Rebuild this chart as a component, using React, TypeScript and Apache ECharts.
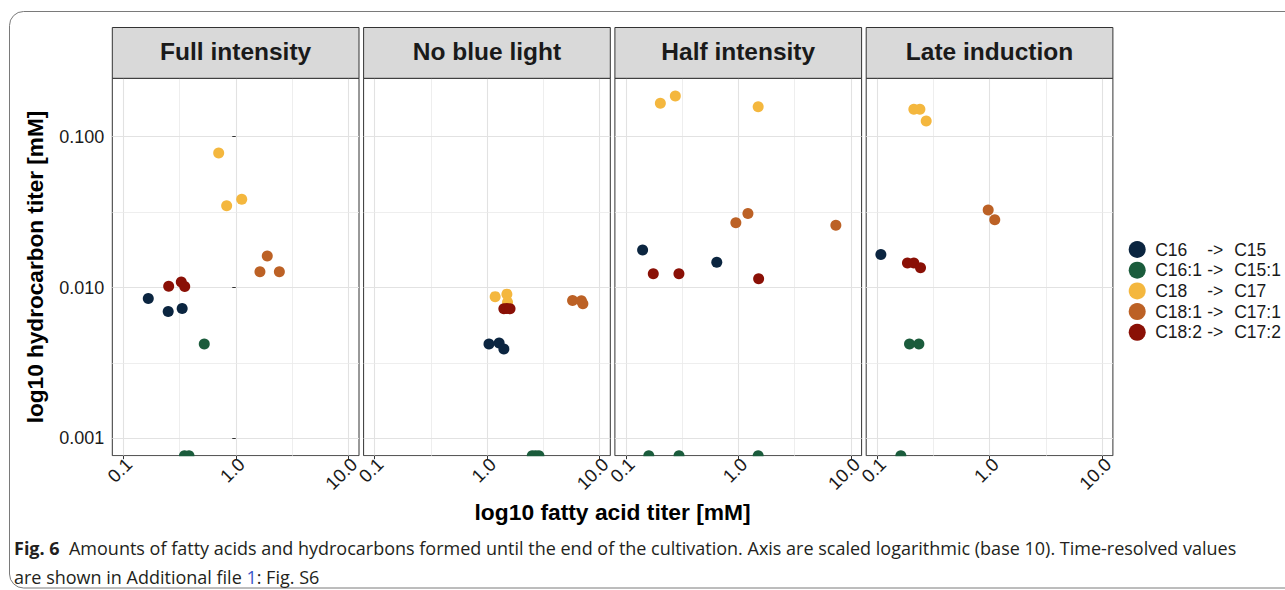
import { useEffect, useRef } from "react";
import * as echarts from "echarts";

// ---------- data ----------
const panelTitles = ["Full intensity", "No blue light", "Half intensity", "Late induction"];
const compounds = ["C16", "C16:1", "C18", "C18:1", "C18:2"];
const products = ["C15", "C15:1", "C17", "C17:1", "C17:2"];
const colors = ["#0b2540", "#1b5c3c", "#f4b73e", "#bc6125", "#8a1006"];

const xTickValues = [0.1, 1, 10];
const xTickLabels = ["0.1", "1.0", "10.0"];
const yTickValues = [0.001, 0.01, 0.1];
const yTickLabels = ["0.001", "0.010", "0.100"];

// [fatty acid titer (mM), hydrocarbon titer (mM)]; 0 = below detection (drawn on the panel edge)
const fullC16 = [[0.167, 0.00845], [0.251, 0.00693], [0.334, 0.00726]];
const fullC16_1 = [[0.525, 0.00422], [0.35, 0], [0.384, 0]];
const fullC18 = [[0.705, 0.078], [0.83, 0.0348], [1.13, 0.0385]];
const fullC18_1 = [[1.905, 0.0162], [1.64, 0.0127], [2.44, 0.0127]];
const fullC18_2 = [[0.2535, 0.0102], [0.328, 0.01086], [0.352, 0.01016]];

const noBlueC16 = [[1.04, 0.00422], [1.28, 0.00428], [1.41, 0.00391]];
const noBlueC16_1 = [[2.52, 0], [2.7, 0], [2.89, 0]];
const noBlueC18 = [[1.18, 0.0087], [1.5, 0.00904], [1.52, 0.008]];
const noBlueC18_1 = [[5.75, 0.0082], [6.89, 0.00817], [7.1, 0.0078]];
const noBlueC18_2 = [[1.41, 0.00722], [1.5, 0.00725], [1.6, 0.00722]];

const halfC16 = [[0.141, 0.0177], [0.643, 0.01473]];
const halfC16_1 = [[0.16, 0], [0.297, 0], [1.5, 0]];
const halfC18 = [[0.2027, 0.1665], [0.2754, 0.186], [1.5, 0.158]];
const halfC18_1 = [[0.95, 0.0269], [1.216, 0.0309], [7.35, 0.0259]];
const halfC18_2 = [[0.1754, 0.01232], [0.2965, 0.01232], [1.514, 0.01142]];

const lateC16 = [[0.108, 0.01656]];
const lateC16_1 = [[0.194, 0.00422], [0.235, 0.00422], [0.1625, 0]];
const lateC18 = [[0.212, 0.1518], [0.24, 0.1518], [0.273, 0.127]];
const lateC18_1 = [[0.97, 0.0327], [1.11, 0.0281]];
const lateC18_2 = [[0.186, 0.01452], [0.212, 0.01452], [0.243, 0.0135]];

const panelData = [
  [fullC16, fullC16_1, fullC18, fullC18_1, fullC18_2],
  [noBlueC16, noBlueC16_1, noBlueC18, noBlueC18_1, noBlueC18_2],
  [halfC16, halfC16_1, halfC18, halfC18_1, halfC18_2],
  [lateC16, lateC16_1, lateC18, lateC18_1, lateC18_2],
];

// ---------- layout ----------
const X_MIN = -1.097;
const X_MAX = 1.095;
const Y_MIN = -3.115;
const Y_MAX = -0.613;
const PANEL_LEFT0 = 112.3;
const PANEL_STEP = 251.3;
const PANEL_W = 246.7;
const PANEL_TOP = 78.3;
const PANEL_H = 377.4;
const STRIP_TOP = 27.5;

const FONT = '"Liberation Sans", Arial, Helvetica, sans-serif';
const CAPTION_FONT = '"Open Sans", Roboto, sans-serif';

const lg = (v: number) => Math.log10(v);
const ty = (v: number) => (v > 0 ? Math.log10(v) : Y_MIN);

function labelFor(values: number[], labels: string[], v: number) {
  for (let i = 0; i < values.length; i++) {
    if (Math.abs(lg(values[i]) - v) < 1e-6) return labels[i];
  }
  return "";
}

function buildOption() {
  const grids: any[] = [];
  const xAxes: any[] = [];
  const yAxes: any[] = [];
  const series: any[] = [];
  const graphics: any[] = [];

  const majorX = xTickValues.map(lg);
  const minorX = [-0.5, 0.5];
  const majorY = yTickValues.map(lg);
  const minorY = [-2.5, -1.5];

  // outer frame
  graphics.push({
    type: "rect",
    z: 0,
    shape: { x: 9.5, y: 11.5, width: 1400, height: 576.5, r: 14 },
    style: { fill: "none", stroke: "#7a7a7a", lineWidth: 1 },
    silent: true,
  });

  panelTitles.forEach((title, i) => {
    const left = PANEL_LEFT0 + i * PANEL_STEP;
    grids.push({
      left,
      top: PANEL_TOP,
      width: PANEL_W,
      height: PANEL_H,
      show: true,
      backgroundColor: "#ffffff",
      borderColor: "#333333",
      borderWidth: 1,
    });
    xAxes.push({
      type: "value",
      gridIndex: i,
      min: X_MIN,
      max: X_MAX,
      z: 10,
      splitLine: { show: false },
      axisLine: { show: false },
      axisTick: {
        show: true,
        length: 3.5,
        customValues: majorX,
        lineStyle: { color: "#333333", width: 1 },
      },
      axisLabel: {
        show: true,
        customValues: majorX,
        rotate: 45,
        margin: 11,
        padding: [0, -8, 0, 0],
        fontSize: 18.5,
        fontFamily: FONT,
        color: "#1a1a1a",
        formatter: (v: number) => labelFor(xTickValues, xTickLabels, v),
      },
    });
    yAxes.push({
      type: "value",
      gridIndex: i,
      min: Y_MIN,
      max: Y_MAX,
      z: 10,
      splitLine: { show: false },
      axisLine: { show: false },
      axisTick: {
        show: i === 0,
        length: 3.5,
        customValues: majorY,
        lineStyle: { color: "#333333", width: 1 },
      },
      axisLabel: {
        show: i === 0,
        customValues: majorY,
        margin: 8,
        fontSize: 18,
        fontFamily: FONT,
        color: "#1a1a1a",
        formatter: (v: number) => labelFor(yTickValues, yTickLabels, v),
      },
    });

    const gridLines: any[] = [];
    majorX.forEach((v) => gridLines.push({ xAxis: v, lineStyle: { color: "#e2e2e2", width: 1.1, type: "solid" } }));
    minorX.forEach((v) => gridLines.push({ xAxis: v, lineStyle: { color: "#eaeaea", width: 0.8, type: "solid" } }));
    majorY.forEach((v) => gridLines.push({ yAxis: v, lineStyle: { color: "#e2e2e2", width: 1.1, type: "solid" } }));
    minorY.forEach((v) => gridLines.push({ yAxis: v, lineStyle: { color: "#eaeaea", width: 0.8, type: "solid" } }));

    panelData[i].forEach((pts, j) => {
      const s: any = {
        type: "scatter",
        name: compounds[j],
        xAxisIndex: i,
        yAxisIndex: i,
        data: pts.map(([fa, hc]) => [lg(fa), ty(hc)]),
        symbol: "circle",
        symbolSize: 11,
        itemStyle: { color: colors[j], opacity: 1 },
        z: 3,
        clip: false,
        silent: true,
        emphasis: { disabled: true },
      };
      if (j === 0) {
        s.markLine = {
          silent: true,
          z: 1,
          symbol: ["none", "none"],
          label: { show: false },
          emphasis: { disabled: true },
          animation: false,
          data: gridLines,
        };
      }
      series.push(s);
    });

    // strip header
    graphics.push({
      type: "rect",
      z: 6,
      shape: { x: left, y: STRIP_TOP, width: PANEL_W, height: PANEL_TOP - STRIP_TOP },
      style: { fill: "#d9d9d9", stroke: "#333333", lineWidth: 1 },
      silent: true,
    });
    graphics.push({
      type: "text",
      z: 7,
      x: left + PANEL_W / 2,
      y: 51.5,
      style: {
        text: title,
        fill: "#1a1a1a",
        font: `bold 24.5px ${FONT}`,
        textAlign: "center",
        textVerticalAlign: "middle",
      },
      silent: true,
    });
    // hides the lower half of points sitting on the bottom edge (clipped like the panel)
    graphics.push({
      type: "rect",
      z: 5,
      shape: { x: left - 1, y: PANEL_TOP + PANEL_H + 0.6, width: PANEL_W + 2, height: 7 },
      style: { fill: "#ffffff" },
      silent: true,
    });
  });

  // axis titles
  graphics.push({
    type: "text",
    z: 7,
    x: 35,
    y: PANEL_TOP + PANEL_H / 2,
    rotation: Math.PI / 2,
    style: {
      text: "log10 hydrocarbon titer [mM]",
      fill: "#000000",
      font: `bold 22.6px ${FONT}`,
      textAlign: "center",
      textVerticalAlign: "middle",
    },
    silent: true,
  });
  graphics.push({
    type: "text",
    z: 7,
    x: PANEL_LEFT0 + (3 * PANEL_STEP + PANEL_W) / 2,
    y: 511.5,
    style: {
      text: "log10 fatty acid titer [mM]",
      fill: "#000000",
      font: `bold 22.8px ${FONT}`,
      textAlign: "center",
      textVerticalAlign: "middle",
    },
    silent: true,
  });

  // caption
  graphics.push({
    type: "text",
    z: 7,
    x: 14,
    y: 548,
    style: {
      text:
        "{b|Fig. 6}  Amounts of fatty acids and hydrocarbons formed until the end of the cultivation. Axis are scaled logarithmic (base 10). Time-resolved values",
      fill: "#231f20",
      font: `18px ${CAPTION_FONT}`,
      textAlign: "left",
      textVerticalAlign: "middle",
      rich: {
        b: { fontWeight: "bold", fontSize: 18, fontFamily: CAPTION_FONT, fill: "#231f20" },
      },
    },
    silent: true,
  });
  graphics.push({
    type: "text",
    z: 7,
    x: 14,
    y: 577,
    style: {
      text: "are shown in Additional file {l|1}: Fig. S6",
      fill: "#231f20",
      font: `18px ${CAPTION_FONT}`,
      textAlign: "left",
      textVerticalAlign: "middle",
      rich: {
        l: { fontSize: 18, fontFamily: CAPTION_FONT, fill: "#3a55c8", color: "#3a55c8" },
      },
    },
    silent: true,
  });

  return {
    animation: false,
    backgroundColor: "#ffffff",
    grid: grids,
    xAxis: xAxes,
    yAxis: yAxes,
    series,
    legend: {
      data: compounds,
      orient: "vertical",
      left: 1123.7,
      top: 235.5,
      itemWidth: 26,
      itemHeight: 17,
      itemGap: 2.7,
      icon: "circle",
      selectedMode: false,
      formatter: (name: string) => {
        const k = compounds.indexOf(name);
        return `{a|${name}}{b|->}{c|${products[k]}}`;
      },
      textStyle: {
        fontFamily: FONT,
        fontSize: 17.5,
        color: "#1a1a1a",
        rich: {
          a: { width: 52, fontFamily: FONT, fontSize: 17.5, color: "#1a1a1a", lineHeight: 17 },
          b: { width: 27, fontFamily: FONT, fontSize: 17.5, color: "#1a1a1a", lineHeight: 17 },
          c: { fontFamily: FONT, fontSize: 17.5, color: "#1a1a1a", lineHeight: 17 },
        },
      },
    },
    graphic: graphics,
  };
}

export default function App() {
  const ref = useRef<HTMLDivElement>(null);
  useEffect(() => {
    if (!ref.current) return;
    const chart = echarts.init(ref.current, null, { renderer: "svg" });
    chart.setOption(buildOption() as any);
    return () => {
      chart.dispose();
    };
  }, []);
  return (
    <div
      ref={ref}
      style={{ position: "fixed", left: 0, top: 0, width: 1285, height: 590, background: "#ffffff" }}
    />
  );
}
